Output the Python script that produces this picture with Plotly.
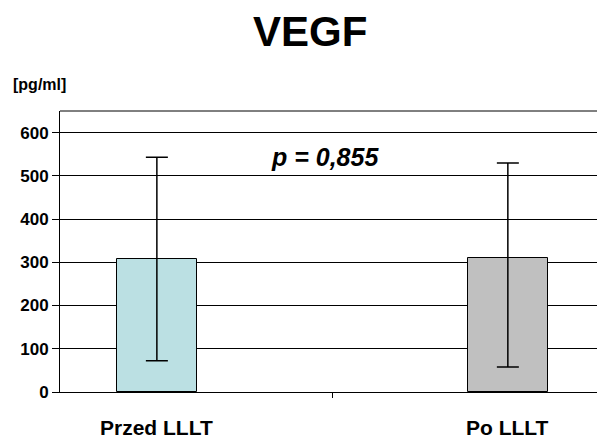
import plotly.graph_objects as go

categories = ["Przed LLLT", "Po LLLT"]
means = [308, 310]
err_plus = [235, 220]
err_minus = [236, 252]
bar_colors = ["#BBE0E3", "#C0C0C0"]
y_ticks = [0, 100, 200, 300, 400, 500, 600]
title_text = "VEGF"
unit_text = "[pg/ml]"
p_text = "p = 0,855"

xpos = list(range(len(categories)))

fig = go.Figure()
fig.add_trace(go.Bar(
    x=xpos, y=means, width=0.228,
    marker=dict(color=bar_colors, line=dict(color="black", width=1)),
    error_y=dict(type="data", symmetric=False, array=err_plus, arrayminus=err_minus,
                 color="black", thickness=1.5, width=11),
    showlegend=False,
))

font_family = "Liberation Sans, Arial, sans-serif"
fig.update_layout(
    width=597, height=441,
    margin=dict(l=60, r=0, t=111, b=49),
    paper_bgcolor="white", plot_bgcolor="white",
    bargap=0,
    xaxis=dict(range=[-0.276, 1.254], tickvals=[0.5], ticktext=[""], ticks="outside",
               ticklen=5, tickcolor="black", showline=True, linecolor="black", linewidth=1,
               showgrid=False, zeroline=False, fixedrange=True),
    yaxis=dict(range=[0, 650], tickvals=y_ticks, ticks="outside", ticklen=7, tickcolor="black",
               showline=True, linecolor="black", linewidth=1, showgrid=True, gridcolor="black",
               gridwidth=1, zeroline=False,
               tickfont=dict(family=font_family, size=17, color="black", weight="bold")),
    font=dict(family=font_family, color="black"),
)
fig.add_shape(type="line", xref="paper", yref="paper", x0=0, x1=1, y0=1, y1=1,
              line=dict(color="black", width=1))
fig.add_annotation(text="<b>" + title_text + "</b>", xref="paper", yref="paper",
                   x=(310 - 60) / 537, y=1 + (111 - 31) / 281, showarrow=False,
                   font=dict(size=42, family=font_family, color="black"),
                   xanchor="center", yanchor="middle")
fig.add_annotation(text="<b>" + unit_text + "</b>", xref="paper", yref="paper",
                   x=(11 - 60) / 537, y=1 + (111 - 84) / 281, showarrow=False,
                   font=dict(size=16, family=font_family, color="black"),
                   xanchor="left", yanchor="middle")
fig.add_annotation(text="<b><i>" + p_text + "</i></b>", xref="paper", yref="paper",
                   x=(325 - 60) / 537, y=1 - (157 - 111) / 281, showarrow=False,
                   font=dict(size=25, family=font_family, color="black"),
                   xanchor="center", yanchor="middle")
for i, c in enumerate(categories):
    fig.add_annotation(text="<b>" + c + "</b>", x=xpos[i], xref="x", yref="paper",
                       y=-(441 - 392) / 281, showarrow=False,
                       font=dict(size=21, family=font_family, color="black"),
                       xanchor="center", yanchor="bottom")

fig.write_html("out.html")
